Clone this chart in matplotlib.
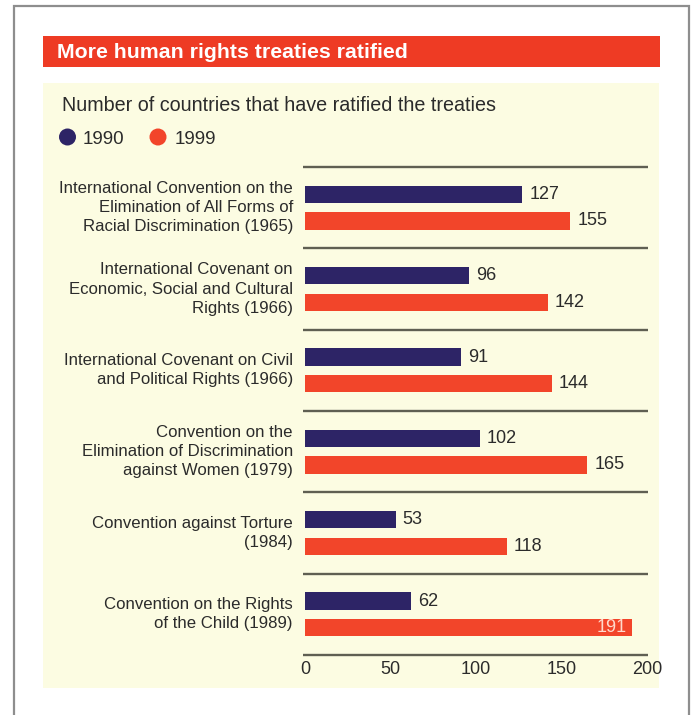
import matplotlib
matplotlib.use('Agg')
import matplotlib.pyplot as plt
from matplotlib.patches import Rectangle, Ellipse
from matplotlib import transforms

# ---------------- data ----------------
categories = [
    "International Convention on the\nElimination of All Forms of\nRacial Discrimination (1965)",
    "International Covenant on\nEconomic, Social and Cultural\nRights (1966)",
    "International Covenant on Civil\nand Political Rights (1966)",
    "Convention on the\nElimination of Discrimination\nagainst Women (1979)",
    "Convention against Torture\n(1984)",
    "Convention on the Rights\nof the Child (1989)",
]
values_1990 = [127, 96, 91, 102, 53, 62]
values_1999 = [155, 142, 144, 165, 118, 191]
series_names = ["1990", "1999"]
x_ticks = [0, 50, 100, 150, 200]
title = "More human rights treaties ratified"
subtitle = "Number of countries that have ratified the treaties"

# ---------------- style ----------------
NAVY = "#2D2466"
RED = "#F2452A"
TITLE_RED = "#EE3B24"
PANEL = "#FCFCE2"
LINE = "#5F5F52"
TEXT = "#2B2B2B"
FONT = "Liberation Sans"

W, H, DPI = 693, 715, 100
fig = plt.figure(figsize=(W / DPI, H / DPI), dpi=DPI)
fig.patch.set_facecolor("white")


def fx(px):
    return px / W


def fy(py):
    return 1 - py / H


def frect(x0, y0, x1, y1, **kw):
    r = Rectangle((fx(x0), fy(y1)), fx(x1) - fx(x0), fy(y0) - fy(y1),
                  transform=fig.transFigure, zorder=-5, **kw)
    fig.patches.append(r)
    return r


# outer border
frect(14, 6, 689, 740, fill=False, ec="#8E8E8E", lw=1.6)
# title bar
frect(43, 36, 660, 67, fc=TITLE_RED, ec="none")
fig.text(fx(57), fy(58), title, color="white", fontsize=15.3, fontweight="bold",
         family=FONT, va="baseline", ha="left")
# panel
frect(43, 83, 659, 688, fc=PANEL, ec="none")
fig.text(fx(62), fy(111), subtitle, color=TEXT, fontsize=14.2, family=FONT,
         va="baseline", ha="left")

# legend
for cx, tx, col, name in [(67.5, 83, NAVY, series_names[0]),
                          (158, 175, RED, series_names[1])]:
    e = Ellipse((fx(cx), fy(137)), 17 / W, 17 / H, transform=fig.transFigure,
                fc=col, ec="none", zorder=-4)
    fig.patches.append(e)
    fig.text(fx(tx), fy(137), name, color=TEXT, fontsize=13.5, family=FONT,
             va="center_baseline", ha="left")

# ---------------- axes ----------------
ax_l, ax_r, ax_t, ax_b = 303, 648, 167, 655
ax = fig.add_axes([fx(ax_l), fy(ax_b), fx(ax_r) - fx(ax_l), fy(ax_t) - fy(ax_b)])
ax.set_zorder(5)
ax.set_facecolor("none")
scale = 1.712  # px per unit
x0 = -2 / scale
x1 = (ax_r - 305) / scale
ax.set_xlim(x0, x1)
n = len(categories)
ax.set_ylim(n, 0)

grp_px = (ax_b - ax_t) / n
off = 13.3 / grp_px
bh = 17.5 / grp_px

for i in range(n + 1):
    ax.plot([x0, x1], [i, i], color=LINE, lw=1.7, clip_on=False,
            solid_capstyle="butt")

y1990 = [i + 0.5 - off for i in range(n)]
y1999 = [i + 0.5 + off for i in range(n)]
ax.barh(y1990, values_1990, height=bh, color=NAVY, left=0)
ax.barh(y1999, values_1999, height=bh, color=RED, left=0)

for ys, vals in [(y1990, values_1990), (y1999, values_1999)]:
    for y, v in zip(ys, vals):
        if v >= 185:
            ax.annotate(str(v), (v, y), xytext=(-5, 0), textcoords="offset pixels",
                        ha="right", va="center", fontsize=13, family=FONT,
                        color="#FFD9CC")
        else:
            ax.annotate(str(v), (v, y), xytext=(7, 0), textcoords="offset pixels",
                        ha="left", va="center", fontsize=13, family=FONT,
                        color=TEXT)

tr = transforms.blended_transform_factory(fig.transFigure, ax.transData)
for i, lab in enumerate(categories):
    ax.text(fx(293), i + 0.5, lab, transform=tr, ha="right", va="center",
            multialignment="right", fontsize=12.1, family=FONT, color=TEXT,
            linespacing=1.36)

ax.set_xticks(x_ticks)
ax.set_xticklabels([str(t) for t in x_ticks], family=FONT)
ax.tick_params(axis="x", length=0, pad=4, labelsize=13, colors=TEXT)
ax.set_yticks([])
for s in ax.spines.values():
    s.set_visible(False)

fig.savefig("out.png", dpi=DPI, facecolor="white")
